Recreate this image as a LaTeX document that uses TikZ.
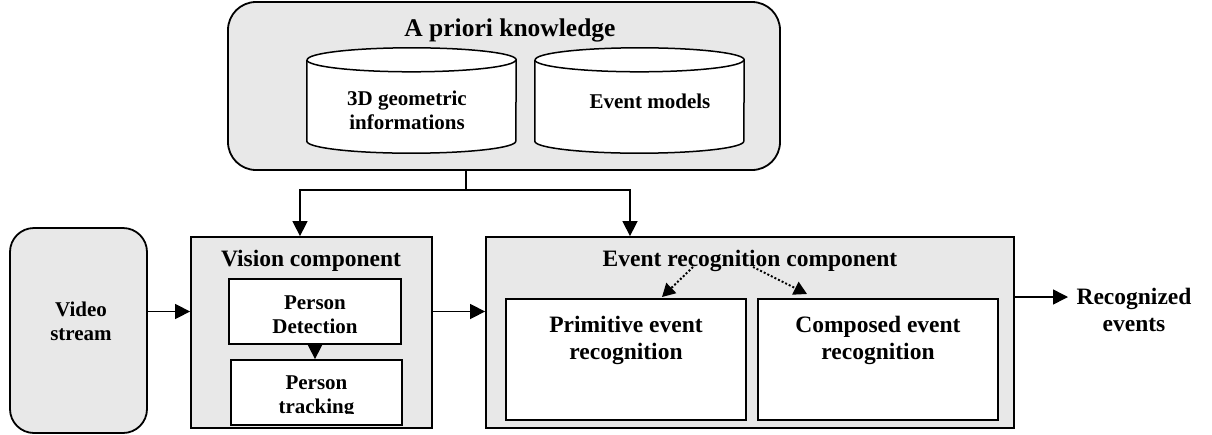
\documentclass[tikz,border=0pt]{standalone}
\usepackage{fontspec}
\setmainfont{Liberation Serif}
\usetikzlibrary{positioning, arrows.meta, calc}

\definecolor{panel}{RGB}{232,232,232}

\begin{document}
\begin{tikzpicture}[x=1pt, y=-1pt, inner sep=0pt, font=\bfseries,
    box/.style={draw, line width=1.8pt, fill=panel},
    inbox/.style={draw, line width=1.8pt, fill=white},
    db/.style={minimum height=105pt, minimum width=209pt},
    cyl/.style={draw, line width=1.5pt, fill=white},
    txt/.style={align=center, font=\bfseries\fontsize{23.5}{27}\selectfont},
    small/.style={align=center, font=\bfseries\fontsize{21}{24}\selectfont},
    arr/.style={line width=1.5pt, -{Triangle[length=15pt, width=15pt]}},
    dot/.style={line width=2pt, dotted, -{Triangle[length=13pt, width=14pt]}}]
    \useasboundingbox (0,0) rectangle (1212,434);
            % a priori knowledge
            \node[box, rounded corners=28pt, minimum width=552pt, minimum height=168pt] (know) at (504,86) {};
            \node[font=\bfseries\fontsize{25.5}{28}\selectfont] (knowtitle) at (510,30) {A priori knowledge};
            \node[db] (geo) at (411.5,100.5) {};
            \node[db] (models) at (639.5,100.5) {};
            \foreach \c in {geo, models} {
                \draw[cyl] ($(\c.north west)+(0,12)$) -- ($(\c.south west)+(0,-12)$)
                    arc[start angle=180, end angle=0, x radius=104.5, y radius=12]
                    -- ($(\c.north east)+(0,12)$)
                    arc[start angle=0, end angle=-180, x radius=104.5, y radius=12];
                \draw[line width=1.5pt] ($(\c.north west)+(0,12)$)
                    arc[start angle=180, end angle=0, x radius=104.5, y radius=12];
            }
            \node[small] (geotxt) at (407,110) {3D geometric\\informations};
            \node[small] (modtxt) at (650,101) {Event models};
            % video stream
            \node[box, rounded corners=24pt, minimum width=137pt, minimum height=205pt] (video) at (78.5,330.5) {};
            \node[small] (videotxt) at (81,321) {Video\\stream};
            % vision component
            \node[box, minimum width=241pt, minimum height=191pt] (vision) at (311.5,332.5) {};
            \node[txt] (visiontitle) at (311,261) {Vision component};
            \node[inbox, minimum width=172pt, minimum height=65pt] (det) at (315,311.5) {};
            \node[small] (dettxt) at (315,315) {Person\\Detection};
            \node[inbox, minimum width=171pt, minimum height=65pt] (trk) at (316.5,392.5) {};
            \begin{scope}
                \clip (231,360) rectangle (402,413);
                \node[small] (trktxt) at (316.5,397) {Person\\tracking};
            \end{scope}
            % event recognition component
            \node[box, minimum width=528pt, minimum height=191pt] (event) at (750,332.5) {};
            \node[txt] (eventtitle) at (750,261) {Event recognition component};
            \node[inbox, minimum width=240pt, minimum height=121pt] (prim) at (626,359.5) {};
            \node[txt] (primtxt) at (626,340) {Primitive event\\recognition};
            \node[inbox, minimum width=240pt, minimum height=121pt] (comp) at (878,359.5) {};
            \node[txt] (comptxt) at (878,340) {Composed event\\recognition};
            % output
            \node[txt] (out) at (1134,310) {Recognized\\events};
            \coordinate (outpt) at (1068,297);
            % connectors
            \coordinate (split) at (466,190);
            \coordinate (tovision) at (300,190);
            \coordinate (toevent) at (630,190);
            \draw[line width=1.5pt] (know.south -| split) -- (split);
            \draw[arr] (split) -- (tovision) -- (tovision |- vision.north);
            \draw[arr] (split) -- (toevent) -- (toevent |- event.north);
            \draw[arr] (video.east |- det) -- (vision.west |- det);
            \draw[arr] (vision.east |- det) -- (event.west |- det);
            \draw[arr] (det.south) -- (det.south |- trk.north);
            \draw[arr] (event.east |- outpt) -- (outpt);
            \draw[dot] (693,267) -- (662,297);
            \draw[dot] (753,267) -- (807,294);
\end{tikzpicture}
\end{document}
